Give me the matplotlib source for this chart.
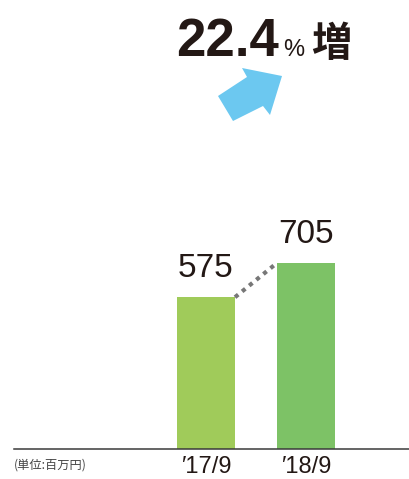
import matplotlib.pyplot as plt
from matplotlib.patches import Polygon

# data
periods = ["′17/9", "′18/9"]
values = [575, 705]
bar_colors = ["#a0cb5a", "#7dc266"]
growth_label = "22.4"
unit_label = "(単位:百万円)"

W, H = 409, 479
fig = plt.figure(figsize=(W / 100, H / 100), dpi=100)


def fx(px):
    return px / W


def fy(py):
    # pixel measured from top -> figure fraction
    return 1 - py / H


ax = fig.add_axes([fx(14), fy(449), fx(395), 449 / H])
x = list(range(len(values)))
ax.bar(x, values, width=0.58, color=bar_colors)
ax.set_xlim(-1.92, 2.03)
ax.set_ylim(0, 1701)

for s in ["top", "right", "left"]:
    ax.spines[s].set_visible(False)
ax.spines["bottom"].set_color("#3a3a3a")
ax.spines["bottom"].set_linewidth(1.1)
ax.set_yticks([])
ax.set_xticks(x)
ax.set_xticklabels(periods, fontsize=17, color="#231815",
                   family=["Liberation Sans", "DejaVu Sans"])
ax.tick_params(axis="x", length=0, pad=5)

# value labels
for xi, v in zip(x, values):
    ax.text(xi, v + 50, str(v), ha="center", va="bottom", fontsize=24,
            color="#231815", family="Liberation Sans")

# dotted connector between bar tops
ax.plot([x[0] + 0.29, x[1] - 0.29], [values[0], values[1]], linestyle=(0, (1, 1.2)),
        color="#777777", linewidth=3, solid_capstyle="butt")

# headline
fig.text(fx(176), fy(56), growth_label, fontsize=38, fontweight="bold",
         color="#231815", family="Liberation Sans", ha="left", va="baseline")
fig.text(fx(283), fy(56), "%", fontsize=17, color="#231815",
         family="Liberation Sans", ha="left", va="baseline")
fig.text(fx(311), fy(56), "増", fontsize=29, fontweight="bold",
         color="#231815", family="Noto Sans CJK JP", ha="left", va="baseline")

# arrow
arrow_px = [(218, 96), (247, 77), (242, 68), (282, 76), (270, 115), (263, 106), (233, 121)]
arrow = Polygon([(fx(a), fy(b)) for a, b in arrow_px], closed=True,
                transform=fig.transFigure, color="#6cc8f0", lw=0)
fig.patches.append(arrow)

fig.text(fx(14), fy(465), unit_label, fontsize=8.8, color="#444444",
         family=["Noto Sans CJK JP", "DejaVu Sans"], ha="left", va="center")

fig.savefig("out.png", dpi=100)
